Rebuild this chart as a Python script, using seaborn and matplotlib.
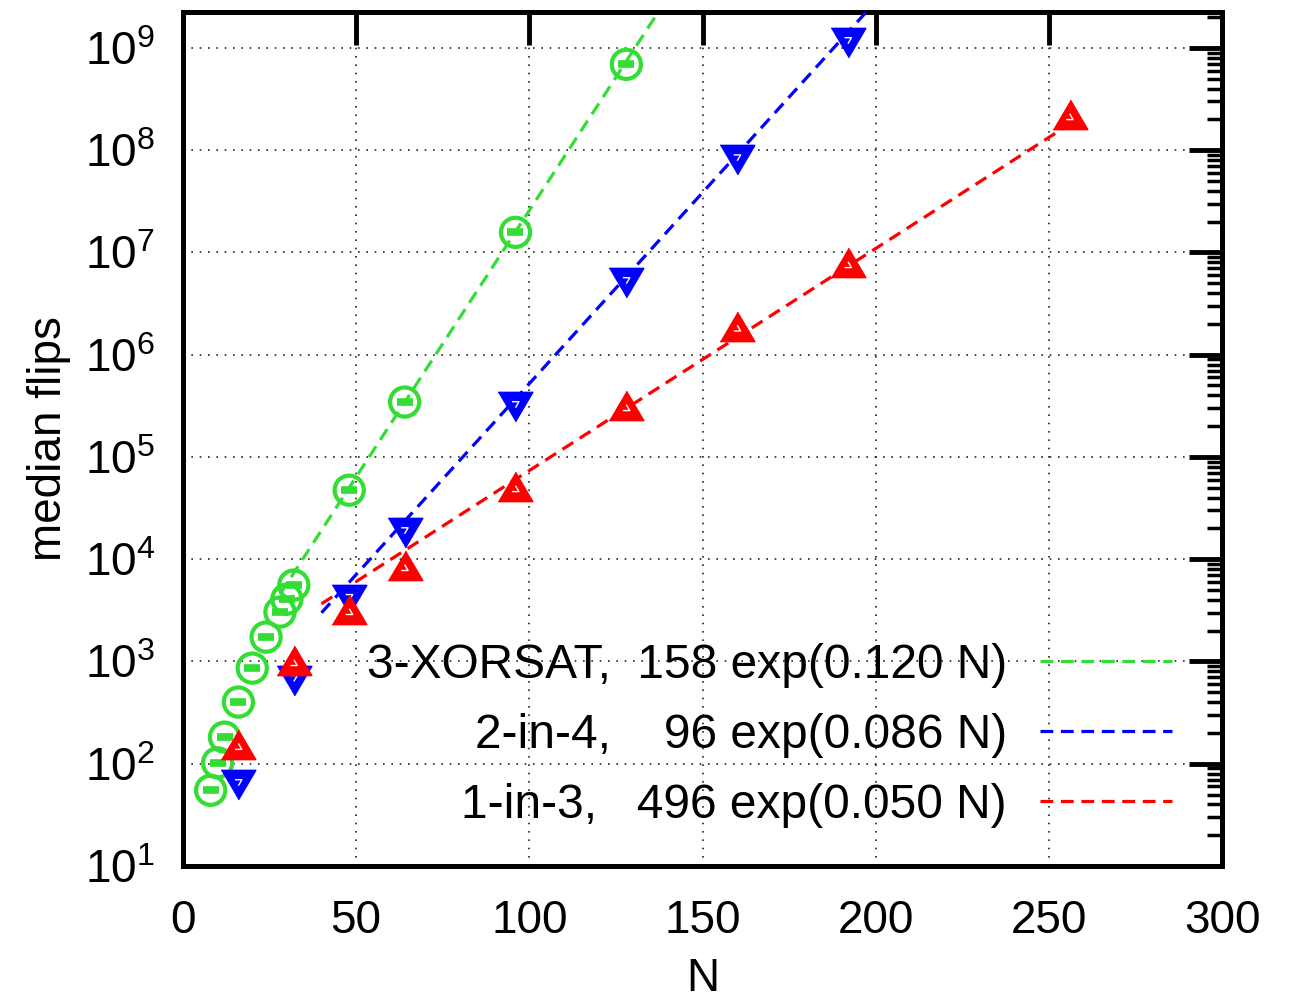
import numpy as np
import pandas as pd
import seaborn as sns
import matplotlib
matplotlib.use('Agg')
import matplotlib.pyplot as plt
from matplotlib.ticker import LogLocator, FixedLocator, FuncFormatter, NullFormatter

# 数据
N_xor = [8, 10, 12, 16, 20, 24, 28, 30, 32, 48, 64, 96, 128]
flips_xor = [55, 102, 182, 401, 861, 1730, 3040, 4070, 5590, 47300, 3.44e5, 1.57e7, 6.9e8]

N_2in4 = [16, 32, 48, 64, 96, 128, 160, 192]
flips_2in4 = [66, 689, 4270, 1.92e4, 3.28e5, 5.35e6, 8.5e7, 1.19e9]

N_1in3 = [16, 32, 48, 64, 96, 128, 160, 192, 256]
flips_1in3 = [146, 964, 3040, 8190, 4.84e4, 3.0e5, 1.8e6, 7.5e6, 2.1e8]

# 拟合参数: A exp(b N), 拟合区间
fit_A = [158, 96, 496]
fit_b = [0.120, 0.086, 0.050]
fit_range = [(28, 160), (40, 220), (40, 256)]
fit_labels = ['3-XORSAT,  158 exp(0.120 N)',
              '2-in-4,    96 exp(0.086 N)',
              '1-in-3,   496 exp(0.050 N)']
colors = ['#33dd33', '#0000ff', '#ff0000']

sns.set_style('white')
plt.rcParams['font.family'] = ['Liberation Sans', 'DejaVu Sans']
plt.rcParams['mathtext.fontset'] = 'custom'
plt.rcParams['mathtext.rm'] = 'Liberation Sans'
plt.rcParams['mathtext.it'] = 'Liberation Sans'
for k in ['text.color', 'axes.labelcolor', 'xtick.color', 'ytick.color', 'axes.edgecolor']:
    plt.rcParams[k] = 'black'

fig = plt.figure(figsize=(12.94, 10.05), dpi=100)
ax = fig.add_axes([0.1414, 0.1383, 0.8030, 0.8497])

tri_up = [(-1, -0.7), (1, -0.7), (0, 1.0)]
tri_dn = [(-1, 0.7), (1, 0.7), (0, -1.0)]

# 拟合直线
for i in range(3):
    lo, hi = fit_range[i]
    n = np.array([lo, hi], dtype=float)
    fdf = pd.DataFrame({'N': n, 'flips': fit_A[i] * np.exp(fit_b[i] * n)})
    sns.lineplot(data=fdf, x='N', y='flips', ax=ax, color=colors[i], lw=2.3,
                 label=fit_labels[i], zorder=3)
for l in ax.get_lines():
    l.set_dashes((4, 2.4))

# 数据点
df_x = pd.DataFrame({'N': N_xor, 'flips': flips_xor})
df_b = pd.DataFrame({'N': N_2in4, 'flips': flips_2in4})
df_r = pd.DataFrame({'N': N_1in3, 'flips': flips_1in3})

sns.scatterplot(data=df_x, x='N', y='flips', ax=ax, marker='o', s=21 ** 2,
                facecolor='none', edgecolor=colors[0], linewidth=3.0, zorder=4, legend=False)
sns.scatterplot(data=df_x, x='N', y='flips', ax=ax, marker='_', s=11 ** 2,
                color=colors[0], linewidth=5.5, zorder=4, legend=False)
sns.scatterplot(data=df_b, x='N', y='flips', ax=ax, marker=tri_dn, s=25 ** 2,
                color=colors[1], edgecolor=colors[1], linewidth=1, zorder=5, legend=False)
sns.scatterplot(data=df_b, x='N', y='flips', ax=ax, marker=tri_dn, s=5 ** 2,
                facecolor='none', edgecolor='white', linewidth=1.0, zorder=5, legend=False)
sns.scatterplot(data=df_r, x='N', y='flips', ax=ax, marker=tri_up, s=25 ** 2,
                color=colors[2], edgecolor=colors[2], linewidth=1, zorder=6, legend=False)
sns.scatterplot(data=df_r, x='N', y='flips', ax=ax, marker=tri_up, s=5 ** 2,
                facecolor='none', edgecolor='white', linewidth=1.0, zorder=6, legend=False)

ax.set_yscale('log')
ax.set_xlim(0, 300)
ax.set_ylim(10, 10 ** 9.35)

ax.xaxis.set_major_locator(FixedLocator([0, 50, 100, 150, 200, 250, 300]))
ax.yaxis.set_major_locator(FixedLocator([10.0 ** k for k in range(1, 10)]))
ax.yaxis.set_major_formatter(FuncFormatter(lambda v, p: r'$10^{%d}$' % round(np.log10(v))))
ax.yaxis.set_minor_locator(LogLocator(base=10, subs=np.arange(2, 10), numticks=20))
ax.yaxis.set_minor_formatter(NullFormatter())

ax.grid(True, which='major', color='black', linestyle=(0, (1, 4)), linewidth=1.2, alpha=0.85)
ax.set_axisbelow(True)

ax.tick_params(which='both', direction='in', top=True, right=True, labelsize=33)
ax.tick_params(which='major', length=24, width=3.5, pad=20, color='black')
ax.tick_params(which='minor', length=11, width=2.5, color='black')
ax.tick_params(axis='x', which='major', pad=24)

for sp in ax.spines.values():
    sp.set_linewidth(3.6)
    sp.set_color('black')

ax.set_xlabel('N', fontsize=33, labelpad=10)
ax.set_ylabel('median flips', fontsize=33, labelpad=10)

leg = ax.legend(loc='lower right', bbox_to_anchor=(0.952, 0.045), frameon=False,
                markerfirst=False, fontsize=34.5, handlelength=2.75, handletextpad=0.7,
                labelspacing=0.52, borderaxespad=0, borderpad=0)
for h in leg.get_lines():
    h.set_linewidth(2.3)
    h.set_dashes((4, 2.4))

plt.savefig('out.png', dpi=100)
